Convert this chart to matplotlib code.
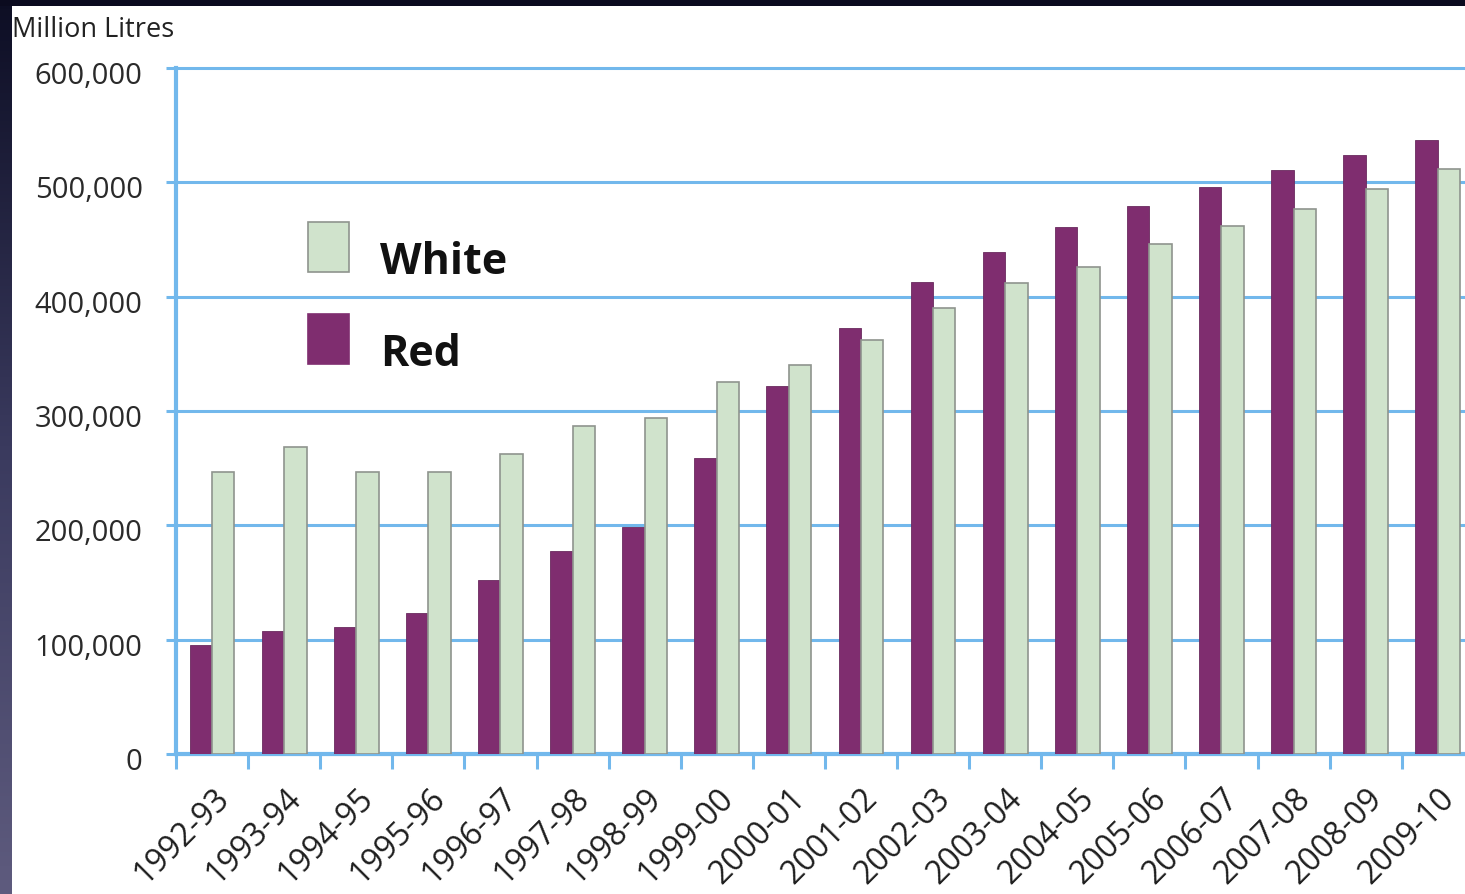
import numpy as np
import matplotlib
matplotlib.use("Agg")
from matplotlib import pyplot as plt
from matplotlib.patches import Rectangle
from matplotlib.colors import LinearSegmentedColormap
from matplotlib.transforms import ScaledTranslation

# wine sales by type, million litres
seasons = ["1992-93", "1993-94", "1994-95", "1995-96", "1996-97", "1997-98",
           "1998-99", "1999-00", "2000-01", "2001-02", "2002-03", "2003-04",
           "2004-05", "2005-06", "2006-07", "2007-08", "2008-09", "2009-10"]
red = [95000, 107500, 111000, 123000, 152000, 177500, 198500, 259000, 322000,
       372500, 413000, 439000, 461000, 479000, 496000, 511000, 524000, 537000]
white = [246500, 268500, 246500, 246500, 262000, 287000, 294000, 325000, 340000,
         362000, 390000, 412000, 426000, 446000, 462000, 477000, 494000, 512000]
y_ticks = [0, 100000, 200000, 300000, 400000, 500000, 600000]
series_names = ["White", "Red"]

RED_C = "#7F2D6F"
WHITE_C = "#D0E3CC"
BLUE = "#72B8EC"

plt.rcParams['font.family'] = ['Open Sans', 'DejaVu Sans']

W, H = 1465, 895
fig = plt.figure(figsize=(W / 100, H / 100), dpi=100)
fig.patch.set_facecolor("white")

# dark frame on the left and top edges
strip = fig.add_axes([0, 0, 12 / W, 1])
grad = np.linspace(0, 1, 256).reshape(-1, 1)
cmap = LinearSegmentedColormap.from_list("edge", ["#0d0e24", "#3a3a5e", "#5e5b7e"])
strip.imshow(grad, aspect="auto", cmap=cmap, extent=[0, 1, 0, 1])
strip.axis("off")
top = fig.add_axes([0, 1 - 7 / H, 1, 7 / H])
top.set_facecolor("#0b0b1f")
top.set_xticks([]); top.set_yticks([])
for s in top.spines.values():
    s.set_visible(False)

cat_w = 72.1
ax = fig.add_axes([176 / W, 140 / H, len(seasons) * cat_w / W, 686 / H])
x = np.arange(len(seasons))
bw = 0.31
ax.bar(x - bw / 2, red, bw, color=RED_C, edgecolor="#6a2a5e", linewidth=0.6, zorder=3)
ax.bar(x + bw / 2, white, bw, color=WHITE_C, edgecolor="#8f948e", linewidth=1.2, zorder=3)

ax.set_xlim(-0.5, len(seasons) - 0.5)
ax.set_ylim(0, 600000)
ax.set_yticks(y_ticks)
ax.set_yticklabels([f"{v:,}" for v in y_ticks])
ax.yaxis.grid(True, color=BLUE, lw=2.2, zorder=0)
for gl in ax.yaxis.get_gridlines():
    gl.set_clip_on(False)
ax.set_axisbelow(True)

for side in ["top", "right"]:
    ax.spines[side].set_visible(False)
for side in ["left", "bottom"]:
    ax.spines[side].set_color(BLUE)
    ax.spines[side].set_linewidth(3)

ax.tick_params(axis="y", length=7, width=2.2, color=BLUE, pad=17,
               labelsize=21, labelcolor="#2a2a2a")
for lab in ax.get_yticklabels():
    lab.set_transform(lab.get_transform() + ScaledTranslation(0, -0.04, fig.dpi_scale_trans))

# category labels at centres, tick marks at boundaries
ax.set_xticks(x)
ax.set_xticklabels(seasons, rotation=45, ha="right", va="center", rotation_mode="anchor")
ax.tick_params(axis="x", which="major", length=0, pad=28, labelsize=23, labelcolor="#1e1e1e")
ax.set_xticks(np.arange(len(seasons) + 1) - 0.5, minor=True)
ax.tick_params(axis="x", which="minor", length=11, width=2.2, color=BLUE)
for lab in ax.get_xticklabels():
    lab.set_transform(lab.get_transform() + ScaledTranslation(0.12, 0, fig.dpi_scale_trans))

fig.text(12 / W, 1 - 37 / H, "Million Litres", fontsize=19.5, color="#222222", va="baseline")

# legend drawn as plain boxes and labels over the grid
legend_colors = {"White": WHITE_C, "Red": RED_C}
legend_edges = {"White": "#8f948e", "Red": RED_C}
for i, name in enumerate(series_names):
    y_top = 223 + i * 92
    fig.patches.append(Rectangle((308 / W, 1 - (y_top + 50) / H), 41 / W, 50 / H,
                                 transform=fig.transFigure, facecolor=legend_colors[name],
                                 edgecolor=legend_edges[name], linewidth=1.2))
    fig.text(380 / W, 1 - (y_top + 51) / H, name, fontsize=31, fontweight="bold",
             color="#111111", va="baseline")

fig.savefig("out.png", dpi=100)
